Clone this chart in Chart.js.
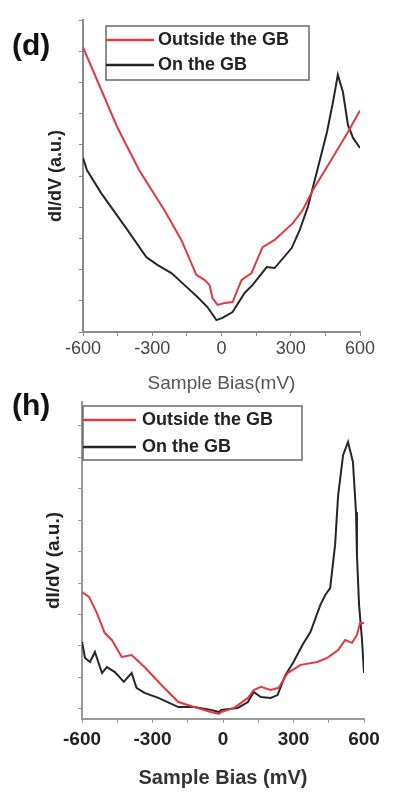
<!DOCTYPE html>
<html>
<head>
<meta charset="utf-8">
<script src="https://cdn.jsdelivr.net/npm/chart.js@4.4.1/dist/chart.umd.min.js"></script>
<style>
    body { margin: 0; background: #fff; font-family: "Liberation Sans", Arial, sans-serif; }
    #wrap { position: relative; width: 414px; height: 799px; overflow: hidden; }
    .panel { position: absolute; left: 0; }
    .tag { position: absolute; left: 12px; font-weight: bold; font-size: 30px; color: #111; }
</style>
</head>
<body>
<div id="wrap">
    <div class="panel" style="top:0"><canvas id="chartD" width="414" height="395"></canvas></div>
    <div class="panel" style="top:395px"><canvas id="chartH" width="414" height="404"></canvas></div>
    <div class="tag" style="top:28px">(d)</div>
    <div class="tag" style="top:388px">(h)</div>
</div>
<script>
// panel (d): outside the GB
const biasOutD = [-600, -452, -357, -248, -174, -109, -74, -52, -39, -17, 13, 48, 87, 130, 178, 230, 309, 352, 396, 470, 548, 600];
const didvOutD = [9.13, 6.57, 5.19, 3.91, 2.95, 1.83, 1.67, 1.51, 1.09, 0.87, 0.93, 0.96, 1.67, 1.89, 2.72, 2.95, 3.49, 3.91, 4.55, 5.45, 6.41, 7.1];
// panel (d): on the GB
const biasOnD = [-600, -583, -522, -413, -326, -278, -217, -161, -104, -61, -22, 4, 48, 100, 135, 196, 230, 304, 339, 374, 413, 457, 483, 504, 526, 548, 570, 600];
const didvOnD = [5.58, 5.19, 4.46, 3.33, 2.40, 2.15, 1.89, 1.51, 1.12, 0.80, 0.38, 0.45, 0.64, 1.25, 1.51, 2.08, 2.05, 2.69, 3.27, 4.01, 5.13, 6.41, 7.37, 8.24, 7.69, 6.63, 6.22, 5.90];

// panel (h): outside the GB
const biasOutH = [-600, -570, -537, -503, -473, -431, -389, -334, -262, -190, -123, -51, -17, -8, 46, 106, 131, 161, 203, 237, 275, 330, 401, 444, 490, 520, 549, 570, 583, 600];
const didvOutH = [3.71, 3.56, 3.05, 2.41, 2.19, 1.65, 1.71, 1.33, 0.76, 0.22, 0.06, -0.10, -0.16, -0.10, 0.03, 0.35, 0.60, 0.70, 0.60, 0.67, 1.14, 1.40, 1.49, 1.62, 1.87, 2.19, 2.10, 2.35, 2.73, 2.73];
// panel (h): on the GB
const biasOnH = [-600, -587, -566, -545, -515, -494, -460, -422, -389, -368, -334, -275, -190, -123, -51, -17, -8, 63, 106, 131, 161, 203, 232, 266, 300, 338, 372, 414, 435, 456, 477, 490, 511, 532, 553, 566, 570, 579, 591, 600];
const didvOnH = [2.13, 1.62, 1.49, 1.81, 1.14, 1.33, 1.17, 0.86, 1.14, 0.67, 0.51, 0.35, 0.06, 0.06, -0.03, -0.10, -0.03, 0.03, 0.22, 0.54, 0.38, 0.35, 0.44, 1.08, 1.49, 2.03, 2.44, 3.30, 3.62, 3.84, 5.21, 6.79, 8.06, 8.48, 7.84, 6.25, 4.89, 3.30, 2.25, 1.14];

const xTickLabels = [-600, -300, 0, 300, 600];
const seriesNames = ['Outside the GB', 'On the GB'];

const RED = '#e2383f';
const BLACK = '#262626';
const FONT = '"Liberation Sans", Arial, sans-serif';

function toPoints(xs, ys) {
    return xs.map((x, i) => ({ x: x, y: ys[i] }));
}

// legend drawn as a framed box inside the plot, like the original figure
const boxLegend = {
    id: 'boxLegend',
    afterDraw(chart, args, opts) {
        const ctx = chart.ctx;
        ctx.save();
        ctx.fillStyle = '#fff';
        ctx.fillRect(opts.left, opts.top, opts.width, opts.height);
        ctx.strokeStyle = '#6a6a6a';
        ctx.lineWidth = 1.5;
        ctx.strokeRect(opts.left, opts.top, opts.width, opts.height);
        ctx.font = opts.font;
        ctx.textBaseline = 'middle';
        chart.data.datasets.forEach((ds, i) => {
            const y = opts.rows[i];
            ctx.strokeStyle = ds.borderColor;
            ctx.lineWidth = 2.5;
            ctx.beginPath();
            ctx.moveTo(opts.left, y);
            ctx.lineTo(opts.left + opts.lineLen, y);
            ctx.stroke();
            ctx.fillStyle = '#222';
            ctx.fillText(ds.label, opts.textX, y);
        });
        ctx.restore();
    }
};

function makeChart(canvasId, outPts, onPts, cfg) {
    const ctx = document.getElementById(canvasId).getContext('2d');
    return new Chart(ctx, {
        type: 'line',
        data: {
            datasets: [
                { label: seriesNames[0], data: outPts, borderColor: RED, borderWidth: 2, pointRadius: 0, tension: 0 },
                { label: seriesNames[1], data: onPts, borderColor: BLACK, borderWidth: 2, pointRadius: 0, tension: 0 }
            ]
        },
        options: {
            responsive: false,
            animation: false,
            layout: { padding: cfg.padding },
            plugins: {
                legend: { display: false },
                tooltip: { enabled: false },
                boxLegend: cfg.legend
            },
            scales: {
                x: {
                    type: 'linear',
                    min: -600,
                    max: 600,
                    afterFit: s => { s.height = cfg.xHeight; },
                    grid: { drawOnChartArea: false, drawTicks: true, tickLength: 4, color: cfg.axisColor },
                    border: { color: cfg.axisColor, width: 2 },
                    ticks: {
                        stepSize: 150,
                        padding: cfg.tickPad,
                        color: cfg.tickColor,
                        font: cfg.tickFont,
                        maxRotation: 0,
                        autoSkip: false,
                        callback: v => xTickLabels.includes(v) ? String(v) : ''
                    },
                    title: {
                        display: true,
                        text: cfg.xTitle,
                        color: cfg.xTitleColor,
                        font: cfg.xTitleFont,
                        padding: { top: 0, bottom: cfg.xTitlePad }
                    }
                },
                y: {
                    min: cfg.yMin,
                    max: cfg.yMax,
                    afterFit: s => { s.width = cfg.yWidth; },
                    grid: { drawOnChartArea: false, drawTicks: true, tickLength: 4, color: cfg.axisColor },
                    border: { color: cfg.axisColor, width: 2 },
                    ticks: { display: false, stepSize: 1, includeBounds: false },
                    title: {
                        display: true,
                        text: 'dI/dV (a.u.)',
                        color: '#222',
                        font: cfg.yTitleFont,
                        padding: { top: cfg.yTitlePad, bottom: 0 }
                    }
                }
            }
        },
        plugins: [boxLegend]
    });
}

makeChart('chartD', toPoints(biasOutD, didvOutD), toPoints(biasOnD, didvOnD), {
    padding: { top: 20, right: 54, left: 0, bottom: 0 },
    xHeight: 63,
    yWidth: 83,
    yMin: 0,
    yMax: 10,
    axisColor: '#8a8a8a',
    tickColor: '#444',
    tickPad: 2,
    tickFont: { family: FONT, size: 18 },
    xTitle: 'Sample Bias(mV)',
    xTitleColor: '#555',
    xTitleFont: { family: FONT, size: 19 },
    xTitlePad: 0,
    yTitleFont: { family: FONT, size: 18, weight: 'bold' },
    yTitlePad: 45,
    legend: { left: 106, top: 26, width: 203, height: 54, rows: [40, 65], lineLen: 48, textX: 158, font: 'bold 18px ' + FONT }
});

makeChart('chartH', toPoints(biasOutH, didvOutH), toPoints(biasOnH, didvOnH), {
    padding: { top: 7, right: 50, left: 0, bottom: 0 },
    xHeight: 80,
    yWidth: 82,
    yMin: -0.32,
    yMax: 9.75,
    axisColor: '#999',
    tickColor: '#222',
    tickPad: 5,
    tickFont: { family: FONT, size: 19, weight: 'bold' },
    xTitle: 'Sample Bias (mV)',
    xTitleColor: '#333',
    xTitleFont: { family: FONT, size: 20, weight: 'bold' },
    xTitlePad: 9,
    yTitleFont: { family: FONT, size: 19, weight: 'bold' },
    yTitlePad: 42,
    legend: { left: 83, top: 11, width: 219, height: 54, rows: [25, 52], lineLen: 53, textX: 142, font: 'bold 18px ' + FONT }
});
</script>
</body>
</html>
